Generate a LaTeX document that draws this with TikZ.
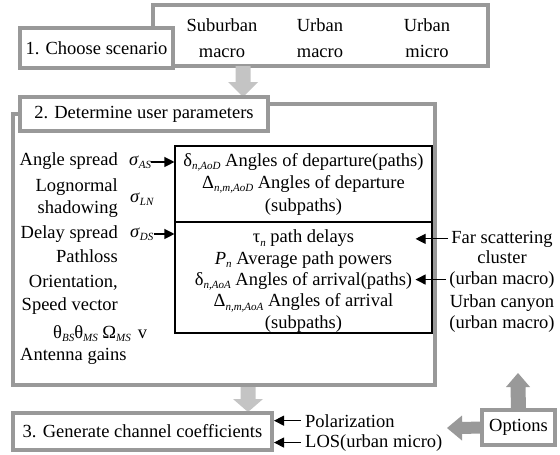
\documentclass[tikz,border=0pt]{standalone}
\usepackage{fontspec}
\setmainfont{Liberation Serif}
\usetikzlibrary{arrows.meta,calc}
\definecolor{framegray}{HTML}{999999}
\definecolor{softgray}{HTML}{C4C4C4}
% small italic subscript
\newcommand\sbx[1]{\raisebox{-0.4ex}{\fontsize{11}{11}\selectfont\itshape #1}}
\begin{document}
\begin{tikzpicture}[x=1pt,y=-1pt,
  every node/.style={font=\fontsize{18.5}{22}\selectfont, inner sep=0pt},
  graybox/.style={draw=framegray, line width=4pt, fill=white},
  inbox/.style={draw=black, line width=1.1pt},
  pointer/.style={-{Triangle[length=10pt,width=10pt]}, line width=1.1pt},
  frameline/.style={draw=framegray, line width=4pt},
]
\useasboundingbox (0,0) rectangle (560,455);

% step 1: scenario choice
\node[graybox, minimum width=335pt, minimum height=61pt] (scen) at (320.5,35.5) {};
\node[align=center, font=\fontsize{18.5}{26}\selectfont] (sub) at (222,38) {Suburban\\macro};
\node[align=center, font=\fontsize{18.5}{26}\selectfont] (umac) at (320,38) {Urban\\macro};
\node[align=center, font=\fontsize{18.5}{26}\selectfont] (umic) at (427,38) {Urban\\micro};
\node[graybox, minimum width=153pt, minimum height=40pt] (choose) at (96.5,48) {1. Choose scenario};

% block arrow from step 1 to step 2
\coordinate (a1s) at (243,66);
\coordinate (a1t) at (243,97);
\fill[softgray] ($(a1s)+(-7.5,0)$) -- ($(a1t)+(-7.5,-15)$) -- ($(a1t)+(-15,-15)$) -- (a1t)
  -- ($(a1t)+(15,-15)$) -- ($(a1t)+(7.5,-15)$) -- ($(a1s)+(7.5,0)$) -- cycle;

% step 2: user parameters
\node[graybox, minimum width=248pt, minimum height=34pt] (det) at (144,114) {2. Determine user parameters};
\draw[frameline, line join=miter] (det.east |- 0,104) -- (435,104) -- (435,385) -- (13,385) -- (13,114) -- (det.west |- 0,114);

\node[inbox, minimum width=257pt, minimum height=76pt] (dep) at (303.5,184) {};
\node[inbox, minimum width=257pt, minimum height=111pt] (arr) at (303.5,277.5) {};
\node[align=center, font=\fontsize{18.5}{22.5}\selectfont] (deptxt) at (303.5,184)
  {δ\sbx{n,AoD} Angles of departure(paths)\\Δ\sbx{n,m,AoD} Angles of departure\\(subpaths)};
\node[align=center, font=\fontsize{18.5}{21.3}\selectfont] (arrtxt) at (303.5,281)
  {τ\sbx{n} path delays\\\textit{P}\sbx{n} Average path powers\\δ\sbx{n,AoA} Angles of arrival(paths)\\Δ\sbx{n,m,AoA} Angles of arrival\\(subpaths)};

% parameters on the left
\node[anchor=base east] (ang) at (118,165) {Angle spread};
\node[anchor=base east] (logn) at (118,191) {Lognormal};
\node[anchor=base east] (shad) at (118,213) {shadowing};
\node[anchor=base east] (dly) at (118,238) {Delay spread};
\node[anchor=base east] (pl) at (118,262) {Pathloss};
\node[anchor=base east] (ori) at (118,287) {Orientation,};
\node[anchor=base east] (spd) at (118,310) {Speed vector};
\node[anchor=base west] (angl) at (53,338) {θ\sbx{BS}θ\sbx{MS} Ω\sbx{MS}\hspace{7pt}v};
\node[anchor=base west] (ant) at (20,360) {Antenna gains};
\node[anchor=base west] (sAS) at (129,165) {\textit{σ}\sbx{AS}};
\node[anchor=base west] (sLN) at (130,202) {\textit{σ}\sbx{LN}};
\node[anchor=base west] (sDS) at (130,237) {\textit{σ}\sbx{DS}};
\draw[pointer] (sAS.east) -- (sAS.east -| dep.west);
\draw[pointer] (sDS.east) -- (sDS.east -| arr.west);

% clusters on the right
\node[anchor=base] (fs1) at (502,243) {Far scattering};
\node[anchor=base] (fs2) at (502,263) {cluster};
\node[anchor=base] (fs3) at (502,284) {(urban macro)};
\node[anchor=base] (uc1) at (502,307) {Urban canyon};
\node[anchor=base] (uc2) at (502,328) {(urban macro)};
\coordinate (tipx) at ($(arr.east)+(-17,0)$);
\draw[pointer, shorten <=3pt] (fs1.west) -- (fs1.west -| tipx);
\draw[pointer, shorten <=3pt] (fs3.west) -- (fs3.west -| tipx);

% block arrow from step 2 to step 3
\coordinate (a2s) at (248,387);
\coordinate (a2t) at (248,412);
\fill[softgray] ($(a2s)+(-7.5,0)$) -- ($(a2t)+(-7.5,-13)$) -- ($(a2t)+(-15,-13)$) -- (a2t)
  -- ($(a2t)+(15,-13)$) -- ($(a2t)+(7.5,-13)$) -- ($(a2s)+(7.5,0)$) -- cycle;

% step 3: channel coefficients
\node[graybox, minimum width=259pt, minimum height=37pt] (gen) at (142.5,431.5) {3. Generate channel coefficients};
\node[anchor=base west] (pol) at (305,427) {Polarization};
\node[anchor=base west] (los) at (305,447) {LOS(urban micro)};
\draw[pointer, shorten <=4pt] (pol.west) -- (pol.west -| gen.east);
\draw[pointer, shorten <=4pt] (los.west) -- (los.west -| gen.east);

% options
\node[graybox, minimum width=73pt, minimum height=35pt] (opt) at (518.5,427.5) {Options};
\coordinate (a3t) at (518,373);
\fill[framegray] ($(opt.north)+(-7.5,0)$) -- ($(a3t)+(-7.5,14)$) -- ($(a3t)+(-12,14)$) -- (a3t)
  -- ($(a3t)+(12,14)$) -- ($(a3t)+(7.5,14)$) -- ($(opt.north)+(7.5,0)$) -- cycle;
\coordinate (a4t) at (447,428);
\fill[framegray] ($(opt.west)+(0,-6)$) -- ($(a4t)+(15,-6)$) -- ($(a4t)+(15,-12.5)$) -- (a4t)
  -- ($(a4t)+(15,12.5)$) -- ($(a4t)+(15,6)$) -- ($(opt.west)+(0,6)$) -- cycle;
\end{tikzpicture}
\end{document}
